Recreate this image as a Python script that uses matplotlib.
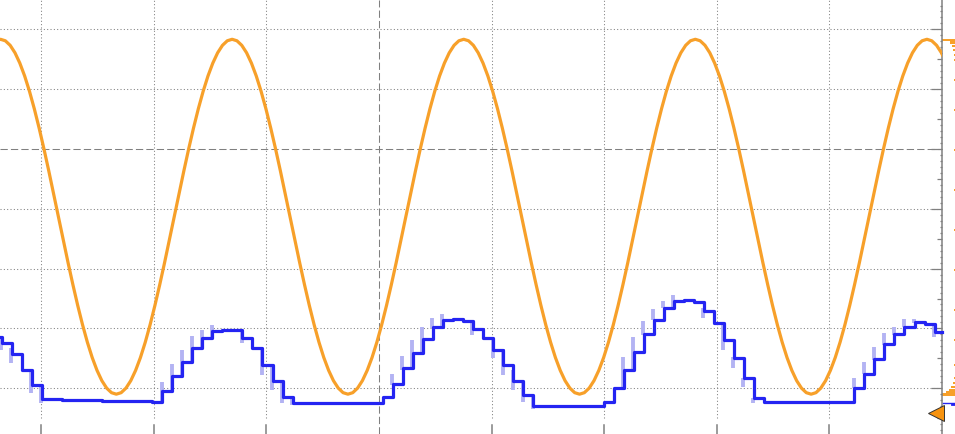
import numpy as np
import matplotlib.pyplot as plt
from matplotlib.patches import Rectangle

# screen is in graticule divisions, 0/0 = centre cross of the scope display
X_LEFT, X_EDGE, X_RIGHT = -3.366, 5.0, 5.115
Y_BOTTOM, Y_TOP = -4.766, 2.492

GRID = '#808080'
ORANGE = '#f7a02a'
BLUE = '#2424f2'
GHOST = '#b3b3f3'

# ── ch1 (orange): sine input, one sample every orange_dt divisions ───────────
orange_t0 = -3.4043
orange_dt = 0.04285
orange_v = [
    1.810,
    # cycle 1
    1.835, 1.810, 1.734, 1.609, 1.437, 1.222, 0.966, 0.674, 0.351, 0.003, -0.365, -0.745,
    -1.133, -1.520, -1.901, -2.268, -2.616, -2.939, -3.231, -3.487, -3.702, -3.874, -3.999, -4.075,
    -4.100, -4.075, -3.999, -3.874, -3.702, -3.487, -3.231, -2.939, -2.616, -2.268, -1.901, -1.520,
    -1.133, -0.745, -0.365, 0.003, 0.351, 0.674, 0.966, 1.222, 1.437, 1.609, 1.734, 1.810,
    # cycle 2
    1.835, 1.810, 1.734, 1.609, 1.437, 1.222, 0.966, 0.674, 0.351, 0.003, -0.365, -0.745,
    -1.133, -1.520, -1.901, -2.268, -2.616, -2.939, -3.231, -3.487, -3.702, -3.874, -3.999, -4.075,
    -4.100, -4.075, -3.999, -3.874, -3.702, -3.487, -3.231, -2.939, -2.616, -2.268, -1.901, -1.520,
    -1.133, -0.745, -0.365, 0.003, 0.351, 0.674, 0.966, 1.222, 1.437, 1.609, 1.734, 1.810,
    # cycle 3
    1.835, 1.810, 1.734, 1.609, 1.437, 1.222, 0.966, 0.674, 0.351, 0.003, -0.365, -0.745,
    -1.133, -1.520, -1.901, -2.268, -2.616, -2.939, -3.231, -3.487, -3.702, -3.874, -3.999, -4.075,
    -4.100, -4.075, -3.999, -3.874, -3.702, -3.487, -3.231, -2.939, -2.616, -2.268, -1.901, -1.520,
    -1.133, -0.745, -0.365, 0.003, 0.351, 0.674, 0.966, 1.222, 1.437, 1.609, 1.734, 1.810,
    # cycle 4
    1.835, 1.810, 1.734, 1.609, 1.437, 1.222, 0.966, 0.674, 0.351, 0.003, -0.365, -0.745,
    -1.133, -1.520, -1.901, -2.268, -2.616, -2.939, -3.231, -3.487, -3.702, -3.874, -3.999, -4.075,
    -4.100, -4.075, -3.999, -3.874, -3.702, -3.487, -3.231, -2.939, -2.616, -2.268, -1.901, -1.520,
    -1.133, -0.745, -0.365, 0.003, 0.351, 0.674, 0.966, 1.222, 1.437, 1.609, 1.734, 1.810,
    # last peak at the right border
    1.835, 1.810, 1.734, 1.609, 1.437,
]

# ── ch2 (blue): sample-and-hold output, one level per blue_dt ────────────────
blue_t0 = -3.440
blue_dt = 0.08908
blue_v = [
    -3.139,
    -3.249, -3.433, -3.696, -3.946, -4.186,
    -4.189, -4.192, -4.197, -4.197, -4.202, -4.206, -4.209, -4.214, -4.217, -4.222, -4.226,
    -4.047, -3.796, -3.557, -3.333, -3.166, -3.038, -3.022, -3.035, -3.166, -3.333, -3.612,
    -3.875, -4.142, -4.242,
    -4.242, -4.242, -4.242, -4.242, -4.242, -4.242, -4.242, -4.242,
    -4.142, -3.930, -3.667, -3.406, -3.172, -2.972, -2.860, -2.848, -2.868, -3.015, -3.161,
    -3.361, -3.612, -3.875, -4.114, -4.293,
    -4.293, -4.293, -4.293, -4.293, -4.293, -4.293,
    -4.231, -3.992, -3.704, -3.390, -3.099, -2.860, -2.664, -2.537, -2.517, -2.559, -2.704,
    -2.905, -3.194, -3.490, -3.824, -4.159, -4.236,
    -4.236, -4.236, -4.236, -4.236, -4.236, -4.236, -4.236, -4.236,
    -3.992, -3.758, -3.512, -3.266, -3.099, -2.972, -2.888, -2.926, -3.065,
]

# persistence glitches seen at some of the step edges (index into blue_v)
glitch_idx = [1, 2, 4, 5, 17, 18, 19, 20, 21, 22, 25, 27, 28, 29, 30,
              40, 41, 42, 43, 44, 45, 48, 50, 51, 52, 53, 54,
              63, 64, 65, 66, 67, 68, 71, 73, 74, 75, 76,
              86, 87, 88, 89, 90, 91, 92, 94]
glitch_hi = [-3.144, -3.328, -3.696, -3.980, -3.891, -3.595, -3.361, -3.127, -3.027, -2.943,
             -3.038, -3.361, -3.612, -3.875, -4.147,
             -3.763, -3.462, -3.194, -2.977, -2.826, -2.759, -2.893, -3.194, -3.344, -3.696,
             -3.880, -4.147,
             -3.478, -3.144, -2.876, -2.676, -2.542, -2.441, -2.659, -2.893, -3.478, -3.829, -4.164,
             -3.829, -3.562, -3.311, -3.077, -2.977, -2.843, -2.843, -2.910]
glitch_lo = [-3.361, -3.579, -4.080, -4.247, -4.242, -4.059, -3.808, -3.557, -3.328, -3.161,
             -3.249, -3.779, -4.030, -4.242, -4.281,
             -3.946, -3.696, -3.679, -3.411, -2.993, -2.977, -3.110, -3.495, -3.779, -4.030,
             -4.231, -4.348,
             -3.997, -3.696, -3.110, -2.860, -2.659, -2.659, -2.826, -3.361, -3.662, -3.980, -4.247,
             -3.997, -3.763, -3.528, -3.278, -3.110, -2.977, -2.910, -3.144]

# level histogram of ch1 at the right border (bar length in divisions)
hist_level = [1.823, 1.781, 1.722, 1.656, 1.572, 1.488, 1.154, 0.652, -0.017, -0.686,
              -1.355, -2.023, -2.692, -3.194, -3.612, -3.829, -3.913, -3.980, -4.030,
              -4.072, -4.105]
hist_len = [0.115, 0.044, 0.027, 0.018, 0.013, 0.013, 0.009, 0.009, 0.009, 0.009,
            0.009, 0.009, 0.009, 0.009, 0.013, 0.013, 0.022, 0.036, 0.053,
            0.080, 0.115]
ch2_hist_level = -4.25
ch1_ground = -4.42

fig = plt.figure(figsize=(9.55, 4.34), dpi=100)
ax = fig.add_axes([0, 0, 1, 1])
ax.set_xlim(X_LEFT, X_RIGHT)
ax.set_ylim(Y_BOTTOM, Y_TOP)
ax.axis('off')

# ── graticule ────────────────────────────────────────────────────────────────
dotted = dict(color=GRID, lw=0.75, ls=(0, (1, 2.2)))
dashed = dict(color=GRID, lw=0.75, ls=(0, (7, 3)))
for gx in range(-3, 5):
    if gx == 0:
        ax.plot([gx, gx], [Y_BOTTOM, Y_TOP], **dashed)
    else:
        ax.plot([gx, gx], [-4.5, Y_TOP], **dotted)
        ax.plot([gx, gx], [Y_BOTTOM, -4.62], color=GRID, lw=1.1)
for gy in range(-4, 3):
    style = dashed if gy == 0 else dotted
    ax.plot([X_LEFT, X_EDGE], [gy, gy], **style)

ax.plot([X_EDGE, X_EDGE], [Y_BOTTOM, Y_TOP], color=GRID, lw=1.1)
for i in range(-48, 25):
    if i % 10 == 0:
        tl = 0.1
    elif i % 5 == 0:
        tl = 0.045
    else:
        tl = 0.02
    ax.plot([X_EDGE - tl, X_EDGE], [i / 10, i / 10], color=GRID, lw=0.9,
            solid_capstyle='butt')

# ── traces ───────────────────────────────────────────────────────────────────
screen = Rectangle((X_LEFT, Y_BOTTOM), X_EDGE - X_LEFT, Y_TOP - Y_BOTTOM,
                   transform=ax.transData)

t_or = orange_t0 + orange_dt * np.arange(len(orange_v))
ln, = ax.plot(t_or, orange_v, color=ORANGE, lw=2.3, solid_joinstyle='round', zorder=3)
ln.set_clip_path(screen)

t_bl = blue_t0 + blue_dt * np.arange(len(blue_v))
ax.vlines(t_bl[glitch_idx] - 0.006, glitch_lo, glitch_hi, color=GHOST, lw=2.8, zorder=4)
ax.step(np.append(t_bl, X_EDGE), np.append(blue_v, blue_v[-1]), where='post',
        color=BLUE, lw=2.3, zorder=5)

# ── right border: histogram + ground marker ─────────────────────────────────
hl = np.array(hist_len)
ax.barh(hist_level, hl, left=X_RIGHT - hl, height=0.035, color=ORANGE, lw=0)
ax.plot([X_EDGE + 0.005, X_RIGHT], [ch2_hist_level, ch2_hist_level], color=BLUE, lw=1.0)
ax.plot([X_RIGHT - 0.03, X_RIGHT], [ch2_hist_level - 0.01] * 2, color=BLUE, lw=2.0)
ax.plot(X_EDGE - 0.05, ch1_ground, marker='<', ms=11, color='#f7930f',
        mec='#333333', mew=0.7, clip_on=False, zorder=6)

fig.savefig('out.png', dpi=100)
